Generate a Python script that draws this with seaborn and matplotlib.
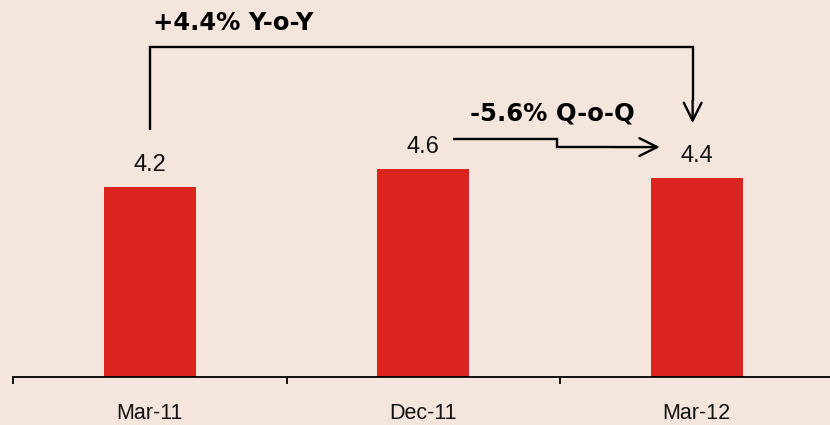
import matplotlib
matplotlib.use("Agg")
import matplotlib.pyplot as plt
import seaborn as sns

# Quarterly values
periods = ["Mar-11", "Dec-11", "Mar-12"]
values = [4.2, 4.6, 4.4]
value_labels = ["4.2", "4.6", "4.4"]
yoy_text = "+4.4% Y-o-Y"
qoq_text = "-5.6% Q-o-Q"

BG = "#F5E6DD"
RED = "#DC241F"

sns.set_theme(style="white")
plt.rcParams["font.family"] = ["Liberation Sans", "DejaVu Sans"]

fig = plt.figure(figsize=(8.3, 4.25), dpi=100, facecolor=BG)
ax = fig.add_axes([13 / 830, 48 / 425, 820.5 / 830, 377 / 425])
ax.set_facecolor(BG)

sns.barplot(x=periods, y=values, color=RED, saturation=1, width=0.336,
            errorbar=None, linewidth=0, edgecolor=RED, ax=ax)
ax.bar_label(ax.containers[0], labels=value_labels, padding=8,
             fontsize=17, color="#111111")

ax.set_xlim(-0.5, 2.5)
ax.set_ylim(0, 8.346)
ax.set_yticks([])
ax.set_ylabel("")
ax.set_xlabel("")
for side in ("left", "top", "right"):
    ax.spines[side].set_visible(False)
ax.spines["bottom"].set_color("black")
ax.spines["bottom"].set_linewidth(1.3)

ax.set_xticks(range(len(periods)))
ax.set_xticklabels(periods, fontsize=15.5, color="#111111")
ax.set_xticks([i - 0.5 for i in range(len(periods) + 1)], minor=True)
ax.tick_params(axis="x", which="major", length=0, pad=19)
ax.tick_params(axis="x", which="minor", length=5, width=1.3,
               color="black", direction="out", bottom=True)

line_kw = dict(color="black", lw=1.7, solid_capstyle="butt",
               solid_joinstyle="miter")
arrow_kw = dict(arrowstyle="->", mutation_scale=32, lw=1.7, color="black",
                shrinkA=0, shrinkB=0)

# Year-over-year bracket: first quarter to latest quarter
i0, i2 = 0, 2
y_start = values[i0] + 1.27
y_top = 7.31
y_tip = values[i2] + 1.22
ax.plot([i0, i0, i2 - 0.015, i2 - 0.015],
        [y_start, y_top, y_top, y_tip + 0.5], **line_kw)
ax.annotate("", xy=(i2 - 0.015, y_tip), xytext=(i2 - 0.015, y_tip + 0.5),
            arrowprops=arrow_kw)
ax.text(i0 + 0.011, 7.68, yoy_text, fontsize=17.5, fontweight="bold",
        family="DejaVu Sans", ha="left", va="baseline", color="black")

# Quarter-over-quarter stepped arrow
i1 = 1
q_start = values[i1] + 0.67
q_end = values[i2] + 0.69
ax.plot([i1 + 0.11, i1 + 0.488, i1 + 0.488, i1 + 0.7],
        [q_start, q_start, q_end, q_end], **line_kw)
ax.annotate("", xy=(i1 + 0.865, q_end), xytext=(i1 + 0.7, q_end),
            arrowprops=arrow_kw)
ax.text(i1 + 0.17, 5.67, qoq_text, fontsize=17.5, fontweight="bold",
        family="DejaVu Sans", ha="left", va="baseline", color="black")

fig.savefig("out.png", dpi=100, facecolor=BG)
